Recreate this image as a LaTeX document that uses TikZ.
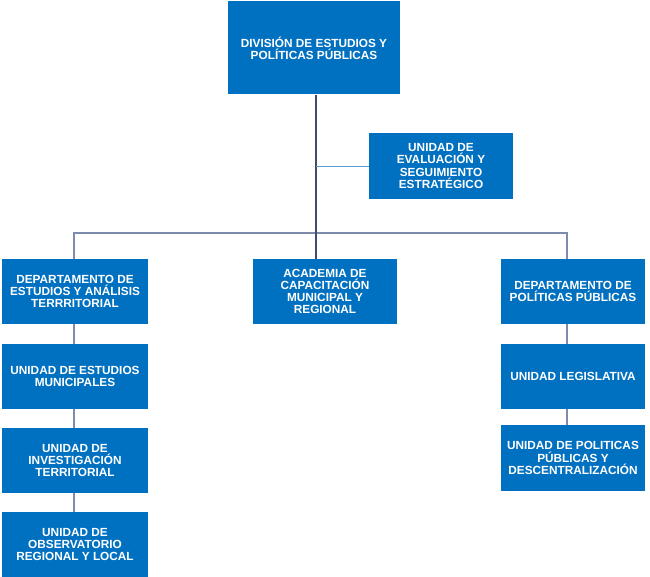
\documentclass[tikz,border=0pt]{standalone}
\usepackage{fontspec}
\setmainfont{Liberation Sans}
\definecolor{boxblue}{HTML}{0070C0}
\definecolor{linegray}{HTML}{7D8CAA}
\definecolor{trunkblue}{HTML}{3E4C70}
\definecolor{branchblue}{HTML}{5B9BD5}
\begin{document}
\begin{tikzpicture}[x=1pt,y=-1pt,
orgbox/.style={rectangle,fill=boxblue,text=white,align=center,inner sep=2pt,
  minimum width=146pt,minimum height=65pt,
  font=\fontsize{11.8pt}{12.2pt}\selectfont\bfseries},
link/.style={draw=linegray,line width=1.6pt},
trunk/.style={draw=trunkblue,line width=1.1pt},
branch/.style={draw=branchblue,line width=0.9pt}]
\useasboundingbox (0,0) rectangle (650,577);
\draw (314,48) node[orgbox,minimum width=172pt,minimum height=93pt] (div) {DIVISIÓN DE ESTUDIOS Y\\POLÍTICAS PÚBLICAS};
\draw (441,166) node[orgbox,minimum width=144pt,minimum height=66pt] (eval) {UNIDAD DE\\EVALUACIÓN Y\\SEGUIMIENTO\\ESTRATÉGICO};
\draw (75,291.5) node[orgbox] (dep1) {DEPARTAMENTO DE\\ESTUDIOS Y ANÁLISIS\\TERRRITORIAL};
\draw (75,376.5) node[orgbox] (est) {UNIDAD DE ESTUDIOS\\MUNICIPALES};
\draw (75,460.5) node[orgbox] (inv) {UNIDAD DE\\INVESTIGACIÓN\\TERRITORIAL};
\draw (75,544.5) node[orgbox] (obs) {UNIDAD DE\\OBSERVATORIO\\REGIONAL Y LOCAL};
\draw (325,291.5) node[orgbox,minimum width=144pt] (acad) {ACADEMIA DE\\CAPACITACIÓN\\MUNICIPAL Y\\REGIONAL};
\draw (573,291.5) node[orgbox,minimum width=144pt] (dep2) {DEPARTAMENTO DE\\POLÍTICAS PÚBLICAS};
\draw (573,376.5) node[orgbox,minimum width=144pt] (leg) {UNIDAD LEGISLATIVA};
\draw (573,458) node[orgbox,minimum width=144pt,minimum height=66pt] (pol) {UNIDAD DE POLITICAS\\PÚBLICAS Y\\DESCENTRALIZACIÓN};
\coordinate (hub) at (316,233);
\draw[link] ([xshift=-1pt]dep1.north) |- (hub) -| ([xshift=-6pt]dep2.north);
\draw[trunk] (hub |- div.south) -- (hub |- acad.north);
\draw[branch] (eval.west) -- (eval.west -| hub);
\draw[link] ([xshift=-1pt]dep1.south) -- ([xshift=-1pt]est.north);
\draw[link] ([xshift=-1pt]est.south) -- ([xshift=-1pt]inv.north);
\draw[link] ([xshift=-1pt]inv.south) -- ([xshift=-1pt]obs.north);
\draw[link] ([xshift=-6pt]dep2.south) -- ([xshift=-6pt]leg.north);
\draw[link] ([xshift=-6pt]leg.south) -- ([xshift=-6pt]pol.north);

\end{tikzpicture}
\end{document}
